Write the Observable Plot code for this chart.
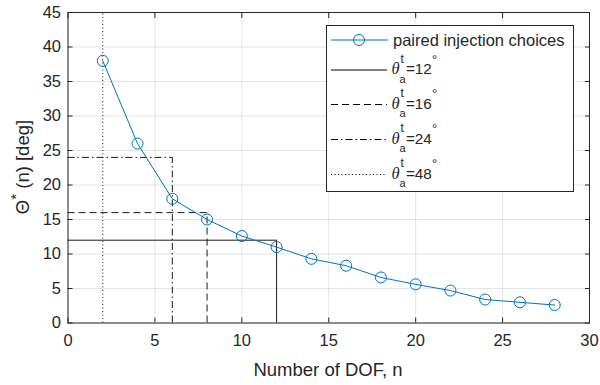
<!DOCTYPE html>
<html><head><meta charset="utf-8">
<script src="https://cdn.jsdelivr.net/npm/d3@7"></script>
<script src="https://cdn.jsdelivr.net/npm/@observablehq/plot@0.6"></script>
<style>body{margin:0;background:#fff}</style>
</head><body><div id="chart"></div>
<script>
// ---- data ----
const dof   = [2, 4, 6, 8, 10, 12, 14, 16, 18, 20, 22, 24, 26, 28];
const theta = [38, 26, 18, 15, 12.6, 11, 9.3, 8.3, 6.6, 5.6, 4.7, 3.4, 3.0, 2.6];
const thresholdTheta = [12, 16, 24, 48];
const thresholdDof   = [12, 8, 6, 2];
const thresholdDash  = ["none", "7,4", "7,3,1.5,3", "1,2.5"];
const seriesLabel = "paired injection choices";
const xTicks = [0, 5, 10, 15, 20, 25, 30];
const yTicks = [0, 5, 10, 15, 20, 25, 30, 35, 40, 45];
const xLabel = "Number of DOF, n";

const blue = "#0072BD";
const ink = "#262626";
const font = "'Liberation Sans', Arial, Helvetica, sans-serif";
const xDom = [xTicks[0], xTicks[xTicks.length - 1]];
const yDom = [yTicks[0], yTicks[yTicks.length - 1]];

const pts = dof.map((n, i) => ({n, t: theta[i]}));
const refs = thresholdTheta.map((t, i) => ({t, n: thresholdDof[i], dash: thresholdDash[i]}));

const refMarks = refs.flatMap(r => {
  const m = [];
  if (r.t <= yDom[1]) m.push(Plot.ruleY([r], {y: "t", x1: xDom[0], x2: "n", stroke: "#1a1a1a", strokeWidth: 1, strokeDasharray: r.dash}));
  m.push(Plot.ruleX([r], {x: "n", y1: yDom[0], y2: d => Math.min(d.t, yDom[1]), stroke: "#1a1a1a", strokeWidth: 1, strokeDasharray: r.dash}));
  return m;
});

const chart = Plot.plot({
  width: 600, height: 385,
  marginLeft: 67.5, marginRight: 11, marginTop: 12, marginBottom: 62.5,
  style: {fontFamily: font, fontSize: "16.5px", color: ink, background: "#fff"},
  x: {domain: xDom},
  y: {domain: yDom},
  marks: [
    Plot.gridX(xTicks, {stroke: "#000", strokeOpacity: 0.1}),
    Plot.gridY(yTicks, {stroke: "#000", strokeOpacity: 0.1}),
    ...refMarks,
    Plot.line(pts, {x: "n", y: "t", stroke: blue, strokeWidth: 1}),
    Plot.dot(pts, {x: "n", y: "t", r: 5.5, stroke: blue, strokeWidth: 1, fill: "none"}),
    Plot.axisX(xTicks, {anchor: "bottom", tickSize: -5, tickPadding: 16.5, label: null, stroke: ink}),
    Plot.axisX(xTicks, {anchor: "top", tickSize: -5, tickFormat: () => "", label: null, stroke: ink}),
    Plot.axisY(yTicks, {anchor: "left", tickSize: -5, tickPadding: 12, label: null, stroke: ink}),
    Plot.axisY(yTicks, {anchor: "right", tickSize: -5, tickFormat: () => "", label: null, stroke: ink}),
    Plot.frame({stroke: ink, strokeWidth: 1})
  ]
});
document.getElementById("chart").appendChild(chart);

const svg = d3.select(chart);
// x title
svg.append("text").attr("x", 328).attr("y", 376).attr("text-anchor", "middle")
  .attr("font-family", font).attr("font-size", 18.5).attr("fill", ink).text(xLabel);
// y title
const yt = svg.append("text").attr("transform", "translate(29,167) rotate(-90)")
  .attr("text-anchor", "middle").attr("font-family", font).attr("font-size", 18.5).attr("fill", ink);
yt.append("tspan").text("Θ");
yt.append("tspan").attr("dy", -8).attr("font-size", 15).text("*");
yt.append("tspan").attr("dy", 8).text(" (n) [deg]");

// legend
const lg = svg.append("g").attr("font-family", font).attr("fill", ink).attr("text-anchor", "start");
lg.append("rect").attr("x", 326.5).attr("y", 25.5).attr("width", 247).attr("height", 166)
  .attr("fill", "#fff").attr("stroke", ink).attr("stroke-width", 1);
const rowY = [40, 70, 104.5, 139.5, 174.5];
lg.append("line").attr("x1", 331).attr("x2", 388).attr("y1", rowY[0]).attr("y2", rowY[0])
  .attr("stroke", blue).attr("stroke-width", 1);
lg.append("circle").attr("cx", 359).attr("cy", rowY[0]).attr("r", 5.5)
  .attr("fill", "none").attr("stroke", blue).attr("stroke-width", 1);
lg.append("text").attr("x", 393).attr("y", rowY[0] + 6).attr("font-size", 16.5).text(seriesLabel);
refs.forEach((r, i) => {
  const y = rowY[i + 1];
  lg.append("line").attr("x1", 331).attr("x2", 387).attr("y1", y).attr("y2", y)
    .attr("stroke", "#000").attr("stroke-width", 1).attr("stroke-dasharray", r.dash);
  lg.append("text").attr("x", 391.5).attr("y", y + 4).attr("font-size", 16.5)
    .attr("font-family", "'Liberation Serif', 'Times New Roman', serif").attr("font-style", "italic").text("θ");
  lg.append("text").attr("x", 400.5).attr("y", y - 7.3).attr("font-size", 12).text("t");
  lg.append("text").attr("x", 399.5).attr("y", y + 12.7).attr("font-size", 11).text("a");
  lg.append("text").attr("x", 406).attr("y", y + 4).attr("font-size", 15.2).text("=" + r.t);
  lg.append("text").attr("x", 432).attr("y", y - 6.5).attr("font-size", 13).text("°");
});
</script>
</body></html>
